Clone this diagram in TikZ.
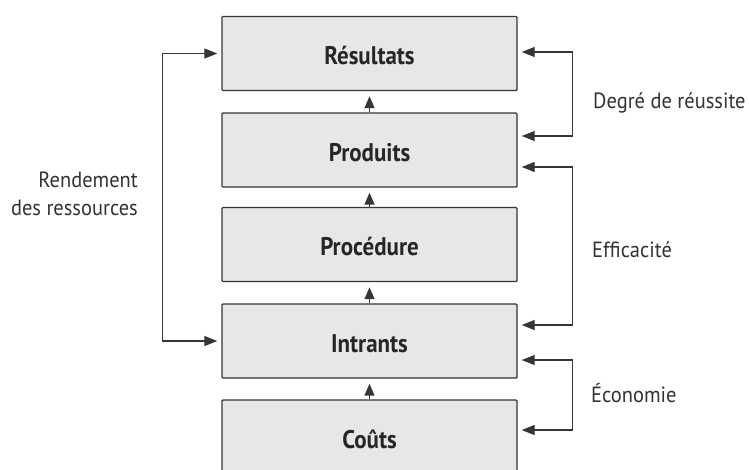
\documentclass[tikz,border=0pt]{standalone}
\usepackage{fontspec}
\setmainfont{PT Sans}
\newfontfamily\stagefont{PT Sans}[FakeStretch=0.9]
\newfontfamily\capfont{PT Sans}[FakeStretch=0.93]
\usetikzlibrary{arrows.meta,calc}
\definecolor{boxfill}{HTML}{E7E7E9}
\definecolor{ink}{HTML}{363636}
\begin{document}
\begin{tikzpicture}[x=1pt,y=-1pt,
  stage/.style={draw=ink, line width=1.4pt, fill=boxfill, rounded corners=1pt,
    minimum width=295pt, minimum height=74pt, inner sep=0pt,
    text height=22pt, text depth=0pt,
    font=\stagefont\fontsize{25.5}{28}\selectfont\bfseries, text=black!85},
  tipped/.style={draw=ink, line width=1.3pt, -{Triangle[length=12pt,width=10pt]}, shorten >=4pt},
  twotipped/.style={draw=ink, line width=1.3pt,
    {Triangle[length=13pt,width=10pt]}-{Triangle[length=13pt,width=10pt]},
    shorten >=4pt, shorten <=4pt},
  caption/.style={font=\capfont\fontsize{22}{26}\selectfont, text=black!80, inner sep=0pt}]
\useasboundingbox (0,0) rectangle (749,469);
\fill[white] (0,0) rectangle (749,469);

% the chain of stages, the last one running off the bottom edge
\begin{scope}
  \clip (0,0) rectangle (749,469);
  \node[stage] (res) at (369.5,53.5)  {Résultats};
  \node[stage] (pro) at (369.5,150) {Produits};
  \node[stage] (proc) at (369.5,244.5) {Procédure};
  \node[stage] (int) at (369.5,341) {Intrants};
  \node[stage] (cou) at (369.5,437) {Coûts};
\end{scope}

% upward flow between stages
\draw[tipped, shorten >=5pt] (pro.north) -- (res.south);
\draw[tipped, shorten >=5pt] (proc.north) -- (pro.south);
\draw[tipped, shorten >=5pt] (int.north) -- (proc.south);
\draw[tipped, shorten >=5pt] (cou.north) -- (int.south);

% left bracket: resource yield
\draw[twotipped] (res.west) -- ++(-59,0) |- (int.west);

% right brackets
\draw[twotipped] ([yshift=1.5pt]res.east) -- ++(55,0) |- ([yshift=14pt]pro.east);
\draw[twotipped] ([yshift=-17pt]pro.east) -- ++(55,0) |- ([yshift=16pt]int.east);
\draw[twotipped] ([yshift=-19pt]int.east) -- ++(55,0) |- ([yshift=7pt]cou.east);

% bracket captions
\node[caption, anchor=base east] (lrend1) at (138,187) {Rendement};
\node[caption, anchor=base east] (lrend2) at (138,215) {des ressources};
\node[caption, anchor=base west] (ldeg) at (593,108) {Degré de réussite};
\node[caption, anchor=base west] (leff) at (592,257) {Efficacité};
\node[caption, anchor=base west] (leco) at (591,402) {Économie};
\end{tikzpicture}
\end{document}
